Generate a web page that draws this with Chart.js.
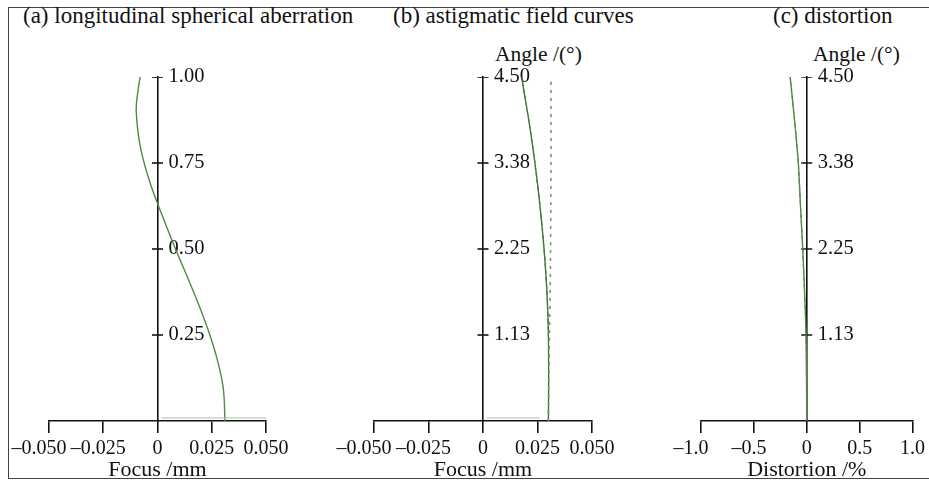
<!DOCTYPE html>
<html>
<head>
<meta charset="utf-8">
<script src="https://cdn.jsdelivr.net/npm/chart.js@4.4.1/dist/chart.umd.min.js"></script>
<style>
  body { margin: 0; background: #fff; width: 929px; height: 481px; overflow: hidden; position: relative;
         font-family: "Liberation Serif", serif; color: #111; }
  .frame { position: absolute; left: 8px; top: 7px; width: 960px; height: 472px; border: 1.5px solid #444; box-sizing: border-box; }
  .lbl { position: absolute; white-space: nowrap; line-height: 1; }
  .pane { position: absolute; top: 0; height: 484px; }
</style>
</head>
<body>
<div class="frame"></div>
<div class="lbl" style="left:23px;top:4px;font-size:23px">(a) longitudinal spherical aberration</div>
<div class="lbl" style="left:393px;top:4px;font-size:23px">(b) astigmatic field curves</div>
<div class="lbl" style="left:773px;top:4px;font-size:23px">(c) distortion</div>
<div class="lbl" style="left:495px;top:44px;font-size:21.5px">Angle /(°)</div>
<div class="lbl" style="left:813px;top:44px;font-size:21.5px">Angle /(°)</div>

<div class="pane" style="left:0;width:310px"><canvas id="ca" width="310" height="484"></canvas></div>
<div class="pane" style="left:320px;width:330px"><canvas id="cb" width="330" height="484"></canvas></div>
<div class="pane" style="left:660px;width:269px"><canvas id="cc" width="269" height="484"></canvas></div>

<script>
// ---- (a) longitudinal spherical aberration ----
const aPupil = [0, 0.1, 0.2, 0.3, 0.4, 0.5, 0.6, 0.7, 0.8, 0.9, 0.95, 1.0];
const aFocus = [0.0311, 0.0302, 0.0266, 0.0213, 0.0150, 0.0083, 0.0020, -0.0038, -0.0080, -0.0098, -0.0092, -0.0080];
const aBaseX = [0.002, 0.05];
const aBaseY = [0.009, 0.009];
const aXTicks = [-0.05, -0.025, 0, 0.025, 0.05];
const aXLabels = ["–0.050", "–0.025", "0", "0.025", "0.050"];
const aYTicks = [0.25, 0.5, 0.75, 1.0];
const aYLabels = ["0.25", "0.50", "0.75", "1.00"];

// ---- (b) astigmatic field curves ----
const bAngle = [0, 0.5, 1.13, 1.7, 2.25, 2.8, 3.38, 3.9, 4.5];
const bSag = [0.0300, 0.0301, 0.0300, 0.0293, 0.0280, 0.0262, 0.0238, 0.0212, 0.0177];
const bTan = [0.0300, 0.0302, 0.0305, 0.0308, 0.0310, 0.0311, 0.0312, 0.0312, 0.0312];
const bBaseX = [0.002, 0.026];
const bBaseY = [0.04, 0.04];
const bXTicks = [-0.05, -0.025, 0, 0.025, 0.05];
const bXLabels = ["–0.050", "–0.025", "0", "0.025", "0.050"];
const bYTicks = [1.125, 2.25, 3.375, 4.5];
const bYLabels = ["1.13", "2.25", "3.38", "4.50"];

// ---- (c) distortion ----
const cAngle = [0, 0.5, 1.13, 1.7, 2.25, 2.8, 3.38, 3.9, 4.5];
const cDist = [0, -0.002, -0.007, -0.021, -0.038, -0.059, -0.080, -0.113, -0.157];
const cXTicks = [-1, -0.5, 0, 0.5, 1];
const cXLabels = ["–1.0", "–0.5", "0", "0.5", "1.0"];
const cYTicks = [1.125, 2.25, 3.375, 4.5];
const cYLabels = ["1.13", "2.25", "3.38", "4.50"];

const INK = "#111";
const GREEN = "#4e8b3f";
const FONT = "Liberation Serif";
const pts = (xs, ys) => xs.map((x, i) => ({ x, y: ys[i] }));

function curve(data, extra) {
  return Object.assign({ data, showLine: true, pointRadius: 0, borderColor: GREEN, borderWidth: 1.4, tension: 0.3, fill: false }, extra);
}

// short marks crossing the vertical axis at each graduation
function tickMarks(vals) {
  return { data: vals.map((v) => ({ x: 0, y: v })), showLine: false, pointStyle: "line",
           pointRadius: 5.5, pointBorderWidth: 1.6, pointBorderColor: INK, pointBackgroundColor: INK };
}

// labels of an axis sitting at x=0 are right-aligned on it by default: put them on its right side
function labelsRight(s) {
  if (s._patched) return;
  s._patched = true;
  const orig = s._computeLabelItems;
  s._computeLabelItems = function (ca) {
    const items = orig.call(this, ca);
    items.forEach((it) => { it.options.textAlign = "left"; it.options.translation[0] += 11; });
    return items;
  };
}

// negative labels hang their minus sign to the left of the tick
const PADS = ["\u2003", "\u2002"];
function xLabel(labels, i) {
  const l = labels[i];
  return l.startsWith("–") ? l + (PADS[i] || "") : l;
}

function panel(id, o) {
  return new Chart(document.getElementById(id), {
    type: "scatter",
    data: { datasets: o.datasets.concat([tickMarks(o.yTicks)]) },
    options: {
      responsive: false, animation: false, events: [],
      layout: { autoPadding: false, padding: o.padding },
      plugins: { legend: { display: false }, tooltip: { enabled: false } },
      scales: {
        x: {
          type: "linear", min: o.xTicks[0], max: o.xTicks[o.xTicks.length - 1], position: "bottom",
          afterBuildTicks: (s) => { s.ticks = o.xTicks.map((v) => ({ value: v })); },
          afterFit: (s) => { s.height = 63; },
          grid: { drawOnChartArea: false, drawTicks: true, tickLength: 12, color: INK, lineWidth: 1.6 },
          border: { color: INK, width: 1.6 },
          ticks: { callback: (v, i) => xLabel(o.xLabels, i),
                   font: { family: FONT, size: 20 }, color: INK, padding: 4, maxRotation: 0, autoSkip: false },
          title: { display: true, text: o.xTitle, font: { family: FONT, size: 22 }, color: INK, padding: { top: 0, bottom: 1 } },
        },
        y: {
          type: "linear", min: 0, max: o.yMax, position: { x: 0 },
          afterBuildTicks: (s) => { s.ticks = o.yTicks.map((v) => ({ value: v })); },
          afterUpdate: labelsRight,
          grid: { drawOnChartArea: false, drawTicks: false },
          border: { color: INK, width: 1.6 },
          ticks: { callback: (v, i) => o.yLabels[i], font: { family: FONT, size: 20.5 }, color: INK,
                   padding: 0, autoSkip: false },
        },
      },
    },
  });
}

panel("ca", {
  padding: { left: 49, right: 44, top: 77, bottom: 0 },
  xTicks: aXTicks, xLabels: aXLabels, yTicks: aYTicks, yLabels: aYLabels, yMax: 1, xTitle: "Focus /mm",
  datasets: [
    curve(pts(aBaseX, aBaseY), { borderColor: "#a9bfa6", borderWidth: 1, tension: 0 }),
    curve(pts(aFocus, aPupil), { tension: 0.4 }),
  ],
});

panel("cb", {
  padding: { left: 54, right: 58, top: 77, bottom: 0 },
  xTicks: bXTicks, xLabels: bXLabels, yTicks: bYTicks, yLabels: bYLabels, yMax: 4.5, xTitle: "Focus /mm",
  datasets: [
    curve(pts(bBaseX, bBaseY), { borderColor: "#a9bfa6", borderWidth: 1, tension: 0 }),
    curve(pts(bTan, bAngle), { borderColor: "#6f9a62", borderWidth: 1.6, borderDash: [3, 5] }),
    curve(pts(bSag, bAngle), { borderColor: "#3f7a32" }),
    curve(pts(bSag, bAngle), { borderColor: "rgba(15,25,15,0.8)", borderWidth: 1, borderDash: [4, 3] }),
  ],
});

panel("cc", {
  padding: { left: 41, right: 11, top: 77, bottom: 0 },
  xTicks: cXTicks, xLabels: cXLabels, yTicks: cYTicks, yLabels: cYLabels, yMax: 4.5, xTitle: "Distortion /%",
  datasets: [
    curve(pts(cDist, cAngle)),
    curve(pts(cDist, cAngle), { borderColor: "rgba(20,30,20,0.7)", borderWidth: 1, borderDash: [4, 3] }),
  ],
});
</script>
</body>
</html>
